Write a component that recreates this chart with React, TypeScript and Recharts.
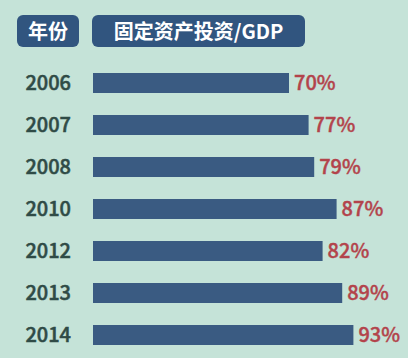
import React from "react";
import { BarChart, Bar, XAxis, YAxis, LabelList } from "recharts";

const years = ["2006", "2007", "2008", "2010", "2012", "2013", "2014"];
const ratios = [70, 77, 79, 87, 82, 89, 93];

const data = years.map((year, i) => ({ year, ratio: ratios[i] }));

const FONT = '"Noto Sans CJK SC", "Noto Sans", sans-serif';

if (typeof document !== "undefined") {
  document.body.style.margin = "0";
}

const headerBox: React.CSSProperties = {
  position: "absolute",
  top: 15,
  height: 32,
  borderRadius: 6,
  background: "#31557f",
  color: "#ffffff",
  fontFamily: FONT,
  fontWeight: 700,
  fontSize: 20,
  lineHeight: "32px",
  textAlign: "center",
};

const App: React.FC = () => {
  return (
    <div
      style={{
        position: "relative",
        width: 408,
        height: 358,
        background: "#c5e3d8",
        overflow: "hidden",
      }}
    >
      {/* column headers */}
      <div style={{ ...headerBox, left: 17, width: 62 }}>年份</div>
      <div style={{ ...headerBox, left: 92, width: 213 }}>固定资产投资/GDP</div>

      <BarChart
        width={408}
        height={358}
        data={data}
        layout="vertical"
        margin={{ top: 62, right: 35, bottom: 2, left: 0 }}
        barCategoryGap={22}
      >
        <XAxis type="number" domain={[0, 100]} hide />
        <YAxis
          type="category"
          dataKey="year"
          width={93}
          axisLine={false}
          tickLine={false}
          tickSize={0}
          tickMargin={22}
          tick={{
            fill: "#2f4b46",
            stroke: "#2f4b46",
            strokeWidth: 0.5,
            fontSize: 20,
            fontWeight: 500,
            fontFamily: FONT,
          }}
        />
        <Bar dataKey="ratio" fill="#3a5b82" barSize={20} isAnimationActive={false}>
          <LabelList
            dataKey="ratio"
            position="right"
            offset={5}
            formatter={(v: any) => `${v}%`}
            style={{
              fill: "#b3434b",
              stroke: "#b3434b",
              strokeWidth: 0.4,
              fontSize: 20,
              fontWeight: 500,
              fontFamily: FONT,
            }}
          />
        </Bar>
      </BarChart>
    </div>
  );
};

export default App;
